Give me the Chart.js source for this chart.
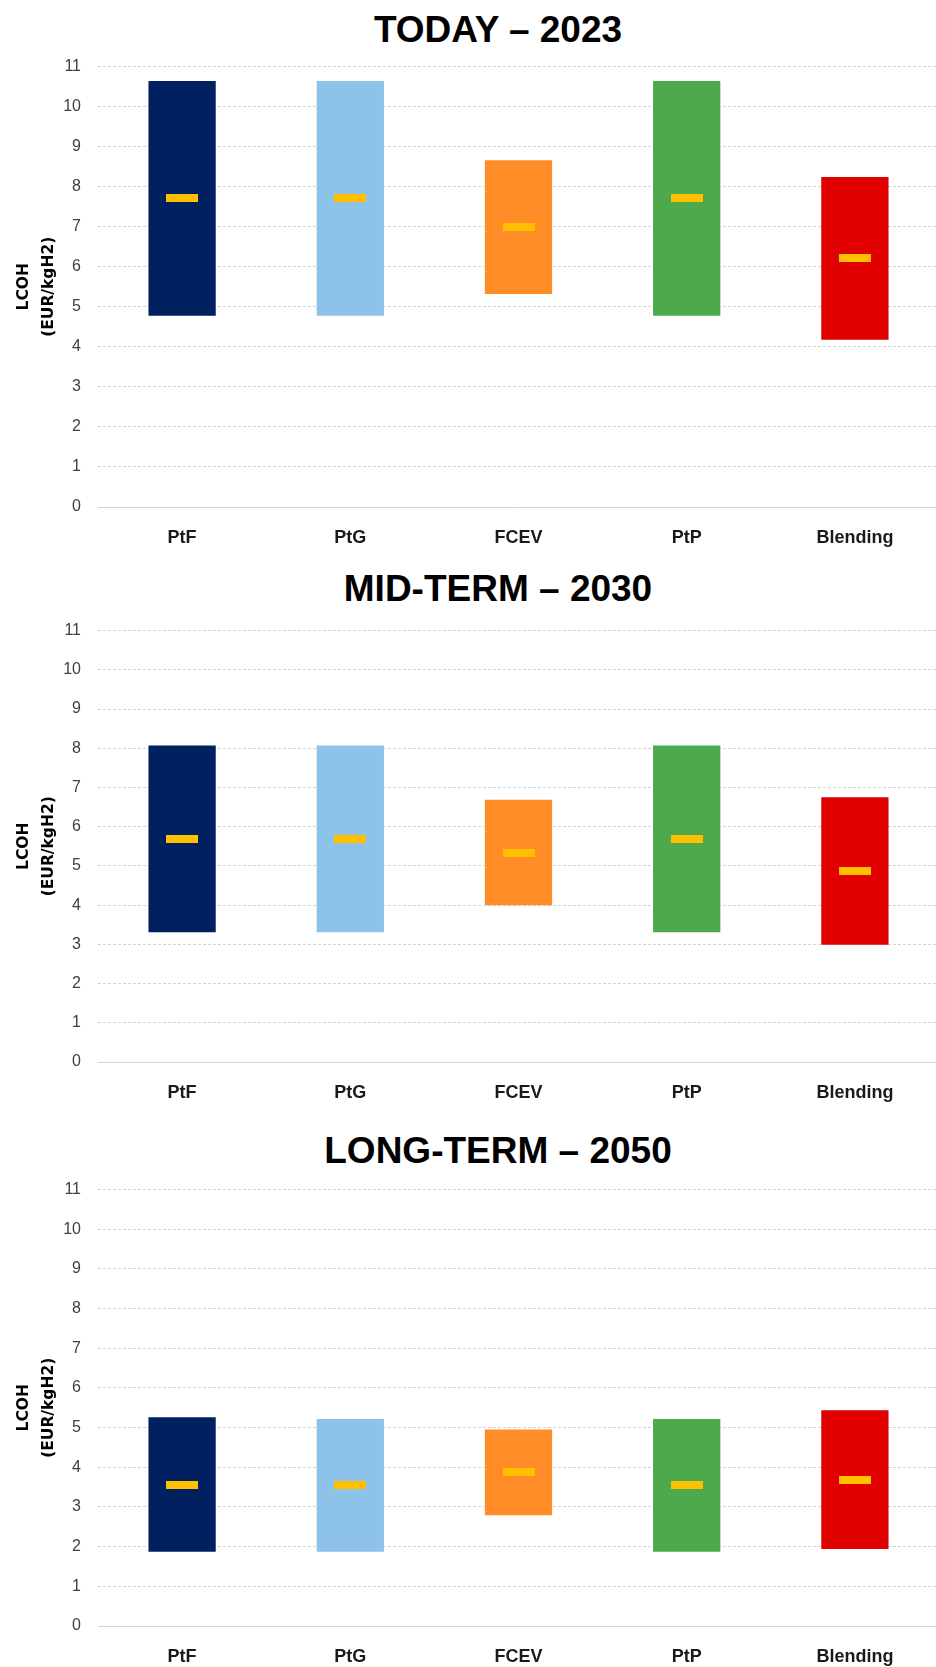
<!DOCTYPE html>
<html>
<head>
<meta charset="utf-8">
<script src="https://cdn.jsdelivr.net/npm/chart.js@4.4.0/dist/chart.umd.min.js"></script>
<style>
  html, body { margin: 0; padding: 0; background: #fff; overflow: hidden; }
  body { position: relative; width: 936px; height: 1667px; }
  .ttl {
    position: absolute; left: 498px; transform: translateX(-50%);
    font-family: 'Liberation Sans', Arial, sans-serif; font-weight: bold;
    font-size: 37px; line-height: 1; color: #000; white-space: nowrap;
  }
  canvas { position: absolute; left: 0; }
</style>
</head>
<body>
<div class="ttl" style="top:11px">TODAY – 2023</div>
<canvas id="chart2023" width="944" height="517" style="top:40px"></canvas>
<div class="ttl" style="top:570px">MID-TERM – 2030</div>
<canvas id="chart2030" width="944" height="508" style="top:604px"></canvas>
<div class="ttl" style="top:1132px">LONG-TERM – 2050</div>
<canvas id="chart2050" width="944" height="513" style="top:1163px"></canvas>

<script>
const categories = ['PtF', 'PtG', 'FCEV', 'PtP', 'Blending']
const barColors = ['#002060', '#8DC3E8', '#FF8C26', '#4CAA4C', '#E00000']
const yTicks = [0, 1, 2, 3, 4, 5, 6, 7, 8, 9, 10, 11]

// 最小・最大・中央値 (EUR/kgH2)
const low2023 = [4.78, 4.78, 5.32, 4.78, 4.18]
const high2023 = [10.64, 10.64, 8.66, 10.64, 8.24]
const mid2023 = [7.72, 7.72, 7.0, 7.72, 6.21]

const low2030 = [3.31, 3.31, 4.0, 3.31, 2.99]
const high2030 = [8.07, 8.07, 6.69, 8.07, 6.75]
const mid2030 = [5.69, 5.69, 5.32, 5.69, 4.87]

const low2050 = [1.87, 1.87, 2.79, 1.87, 1.94]
const high2050 = [5.26, 5.22, 4.95, 5.22, 5.44]
const mid2050 = [3.56, 3.56, 3.87, 3.56, 3.68]

// median marker (yellow dash)
const marker = document.createElement('canvas')
marker.width = 32
marker.height = 8
const mctx = marker.getContext('2d')
mctx.fillStyle = '#FFC000'
mctx.fillRect(0, 0, 32, 8)

function drawRange(id, lows, highs, mids) {
  const ctx = document.querySelector('#' + id)
  if (!ctx) return

  return new Chart(ctx, {
    type: 'bar',
    data: {
      labels: categories,
      datasets: [{
        type: 'line',
        data: mids,
        showLine: false,
        pointStyle: marker,
        order: 0
      }, {
        data: lows.map((v, i) => [v, highs[i]]),
        backgroundColor: barColors,
        borderWidth: 0,
        barPercentage: 0.4,
        categoryPercentage: 1,
        order: 1
      }]
    },
    options: {
      responsive: false,
      animation: false,
      events: [],
      layout: { padding: { top: 12, left: 0, right: 0, bottom: 0 } },
      plugins: {
        legend: { display: false },
        tooltip: { enabled: false }
      },
      scales: {
        x: {
          grid: { display: false },
          border: { display: false },
          ticks: {
            color: '#1a1a1a',
            padding: 12,
            font: { family: "'Liberation Sans', Arial, sans-serif", size: 18, weight: 'bold' }
          },
          afterFit: (scale) => { scale.height = 50 }
        },
        y: {
          min: 0,
          max: 11,
          afterBuildTicks: (scale) => { scale.ticks = yTicks.map(v => ({ value: v })) },
          grid: {
            color: '#d4d4d4',
            lineWidth: 1,
            drawTicks: false
          },
          border: {
            display: false,
            dash: (c) => (c.tick && c.tick.value === 0) ? [] : [3, 2]
          },
          ticks: {
            color: '#404040',
            padding: 17,
            font: { family: "'Liberation Sans', Arial, sans-serif", size: 16 }
          },
          title: {
            display: true,
            text: ['LCOH', '(EUR/kgH2)'],
            color: '#000',
            padding: { top: 11, bottom: 0 },
            font: { family: "'DejaVu Sans', sans-serif", size: 15.5, weight: 'bold', lineHeight: 1.65 }
          },
          afterFit: (scale) => { scale.width = 98 }
        }
      }
    }
  })
}

document.addEventListener('DOMContentLoaded', () => {
  drawRange('chart2023', low2023, high2023, mid2023)
  drawRange('chart2030', low2030, high2030, mid2030)
  drawRange('chart2050', low2050, high2050, mid2050)
})
</script>
</body>
</html>
